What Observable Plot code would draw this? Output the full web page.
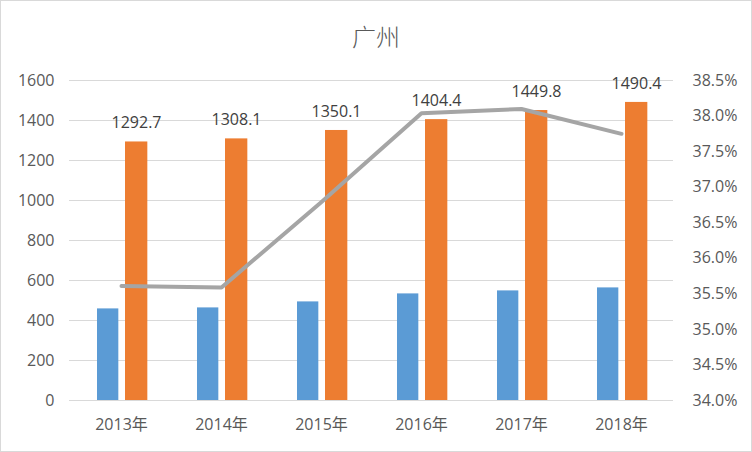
<!DOCTYPE html>
<html><head><meta charset="utf-8">
<script src="https://cdn.jsdelivr.net/npm/d3@7"></script>
<script src="https://cdn.jsdelivr.net/npm/@observablehq/plot@0.6"></script>
<style>
html,body{margin:0;padding:0;background:#fff;}
#chart{width:752px;height:452px;box-sizing:border-box;border:1px solid #d9d9d9;background:#fff;overflow:hidden;}
#title{height:59px;box-sizing:border-box;padding-top:23px;text-align:center;font:300 24px/24px "Noto Sans CJK SC",sans-serif;color:#595959;}
</style></head><body>
<div id="chart"><div id="title">广州</div></div>
<script>
const years = ["2013年","2014年","2015年","2016年","2017年","2018年"];
const blueValues = [458, 463, 493, 533, 548, 563];
const orangeValues = [1292.7, 1308.1, 1350.1, 1404.4, 1449.8, 1490.4];
const ratioValues = [35.61, 35.59, 36.79, 38.04, 38.10, 37.75];
const leftTicks = [0, 200, 400, 600, 800, 1000, 1200, 1400, 1600];
const rightTicks = [34.0, 34.5, 35.0, 35.5, 36.0, 36.5, 37.0, 37.5, 38.0, 38.5];

const toLeft = d3.scaleLinear([34, 38.5], [0, 1600]);
const blueRows = years.map((year, i) => ({year, value: blueValues[i]}));
const orangeRows = years.map((year, i) => ({year, value: orangeValues[i]}));
const ratioRows = years.map((year, i) => ({year, ratio: ratioValues[i]}));

const font = '"Open Sans","Noto Sans CJK SC",sans-serif';
const chart = Plot.plot({
  width: 750,
  height: 391,
  marginLeft: 68,
  marginRight: 78,
  marginTop: 20,
  marginBottom: 51,
  style: {fontFamily: font, fontSize: "16px", color: "#595959", background: "#fff"},
  x: {type: "band", domain: years, padding: 0, axis: null, label: null},
  y: {domain: [0, 1600], nice: false, axis: null, label: null},
  marks: [
    Plot.ruleY(leftTicks, {stroke: "#d9d9d9", strokeWidth: 1}),
    Plot.barY(blueRows, {x: "year", y: "value", fill: "#5b9bd5", insetLeft: 26, insetRight: 52.67}),
    Plot.barY(orangeRows, {x: "year", y: "value", fill: "#ed7d31", insetLeft: 54, insetRight: 23.67}),
    Plot.lineY(ratioRows, {x: "year", y: d => toLeft(d.ratio), stroke: "#a5a5a5", strokeWidth: 4, strokeLinecap: "round", strokeLinejoin: "round"}),
    Plot.text(orangeRows, {x: "year", y: "value", text: d => d.value.toFixed(1), dx: 15, dy: -19, fill: "#404040", fontSize: 16}),
    Plot.axisY({ticks: leftTicks, tickSize: 0, tickPadding: 15, fontSize: 16, fill: "#595959", label: null, tickFormat: d => String(d)}),
    Plot.axisY({anchor: "right", ticks: rightTicks.map(t => toLeft(t)), tickSize: 0, tickPadding: 19, fontSize: 16, fill: "#595959", label: null, tickFormat: v => toLeft.invert(v).toFixed(1) + "%"}),
    Plot.axisX({domain: years, tickSize: 0, tickPadding: 18, fontSize: 16, fill: "#595959", label: null})
  ]
});
document.getElementById("chart").appendChild(chart);
</script>
</body></html>
